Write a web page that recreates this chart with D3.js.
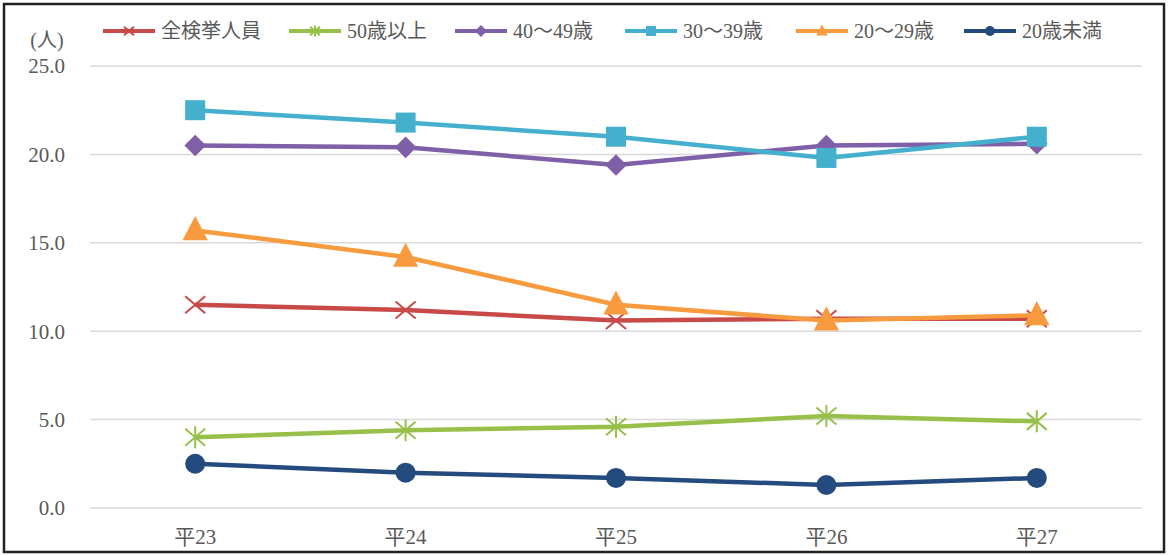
<!DOCTYPE html>
<html lang="ja">
<head>
<meta charset="UTF-8">
<script src="https://d3js.org/d3.v7.min.js"></script>
<style>
  body { margin: 0; background: #fff; }
  text { font-family: "Liberation Serif", "DejaVu Serif", "Noto Sans CJK JP", serif; fill: #595959; }
</style>
</head>
<body>
<svg width="1168" height="556"></svg>
<script>
// data
let years = ['平23', '平24', '平25', '平26', '平27'];
let seriesNames = ['全検挙人員', '50歳以上', '40～49歳', '30～39歳', '20～29歳', '20歳未満'];
let total = [11.5, 11.2, 10.6, 10.7, 10.7];
let over50 = [4.0, 4.4, 4.6, 5.2, 4.9];
let age40s = [20.5, 20.4, 19.4, 20.5, 20.6];
let age30s = [22.5, 21.8, 21.0, 19.8, 21.0];
let age20s = [15.7, 14.2, 11.5, 10.6, 10.9];
let under20 = [2.5, 2.0, 1.7, 1.3, 1.7];
let yTicks = [0, 5, 10, 15, 20, 25];

let colors = ['#c84a48', '#96c04a', '#7f5fa8', '#45b0cd', '#f89a3e', '#244b7e'];
let symbols = ['x', 'asterisk', 'diamond', 'square', 'triangle', 'circle'];
let allValues = [total, over50, age40s, age30s, age20s, under20];

let series = seriesNames.map((name, i) => ({
    name: name, values: allValues[i], color: colors[i], sym: symbols[i]
}));

let svg = d3.select('svg');

// frame
svg.append('rect')
    .attr('x', 4).attr('y', 4).attr('width', 1160).attr('height', 548)
    .attr('fill', 'none').attr('stroke', '#222').attr('stroke-width', 2.5);

let plotLeft = 90, plotRight = 1142, plotTop = 66, plotBottom = 508;

let x = d3.scaleBand().domain(years).range([plotLeft, plotRight]);
let y = d3.scaleLinear().domain([0, 25]).range([plotBottom, plotTop]);

// grid
svg.append('g').selectAll('line')
    .data(yTicks).enter().append('line')
    .attr('x1', plotLeft).attr('x2', plotRight)
    .attr('y1', d => y(d)).attr('y2', d => y(d))
    .attr('stroke', '#d9d9d9').attr('stroke-width', 1.5);

// y labels
svg.append('g').selectAll('text')
    .data(yTicks).enter().append('text')
    .attr('x', 65).attr('y', d => y(d))
    .attr('dy', '0.35em')
    .attr('text-anchor', 'end')
    .attr('font-size', 21)
    .text(d => d.toFixed(1));

svg.append('text')
    .attr('x', 47).attr('y', 40)
    .attr('dy', '0.35em')
    .attr('text-anchor', 'middle')
    .attr('font-size', 20)
    .text('(人)');

// x labels
svg.append('g').selectAll('text')
    .data(years).enter().append('text')
    .attr('x', d => x(d) + x.bandwidth() / 2)
    .attr('y', 537)
    .attr('dy', '0.35em')
    .attr('text-anchor', 'middle')
    .attr('font-size', 21)
    .text(d => d);

// marker drawing
function drawMarker(sel, sym, color, s) {
    if (sym === 'x') {
        sel.append('path')
            .attr('d', `M${-s},${-s * 0.85}L${s},${s * 0.85}M${-s},${s * 0.85}L${s},${-s * 0.85}`)
            .attr('stroke', color).attr('stroke-width', 2).attr('fill', 'none');
    } else if (sym === 'asterisk') {
        sel.append('path')
            .attr('d', `M${-s},${-s * 0.85}L${s},${s * 0.85}M${-s},${s * 0.85}L${s},${-s * 0.85}M0,${-s * 1.1}L0,${s * 1.1}`)
            .attr('stroke', color).attr('stroke-width', 2).attr('fill', 'none');
    } else if (sym === 'diamond') {
        sel.append('path')
            .attr('d', `M0,${-s * 1.2}L${s * 1.2},0L0,${s * 1.2}L${-s * 1.2},0Z`)
            .attr('fill', color);
    } else if (sym === 'square') {
        sel.append('rect')
            .attr('x', -s).attr('y', -s).attr('width', 2 * s).attr('height', 2 * s)
            .attr('fill', color);
    } else if (sym === 'triangle') {
        sel.append('path')
            .attr('d', `M0,${-s * 1.3}L${s * 1.15},${s * 0.9}L${-s * 1.15},${s * 0.9}Z`)
            .attr('fill', color);
    } else {
        sel.append('circle').attr('r', s).attr('fill', color);
    }
}

let line = d3.line()
    .x((d, i) => x(years[i]) + x.bandwidth() / 2)
    .y(d => y(d));

let sizes = { x: 10, asterisk: 10, diamond: 9, square: 10, triangle: 11, circle: 10 };

series.forEach(s => {
    let g = svg.append('g');
    g.append('path')
        .attr('d', line(s.values))
        .attr('fill', 'none')
        .attr('stroke', s.color)
        .attr('stroke-width', 4.5);
    s.values.forEach((v, i) => {
        let m = g.append('g')
            .attr('transform', `translate(${x(years[i]) + x.bandwidth() / 2},${y(v)})`);
        drawMarker(m, s.sym, s.color, sizes[s.sym]);
    });
});

// legend
let legendX = [103, 289, 455, 625, 796, 964];
let legend = svg.append('g');
series.forEach((s, i) => {
    let g = legend.append('g').attr('transform', `translate(${legendX[i]},31)`);
    g.append('line')
        .attr('x1', 0).attr('x2', 52)
        .attr('stroke', s.color).attr('stroke-width', 4);
    let m = g.append('g').attr('transform', 'translate(26,0)');
    drawMarker(m, s.sym, s.color, 5);
    g.append('text')
        .attr('x', 58).attr('y', 0)
        .attr('dy', '0.35em')
        .attr('font-size', 20)
        .text(s.name);
});
</script>
</body>
</html>
